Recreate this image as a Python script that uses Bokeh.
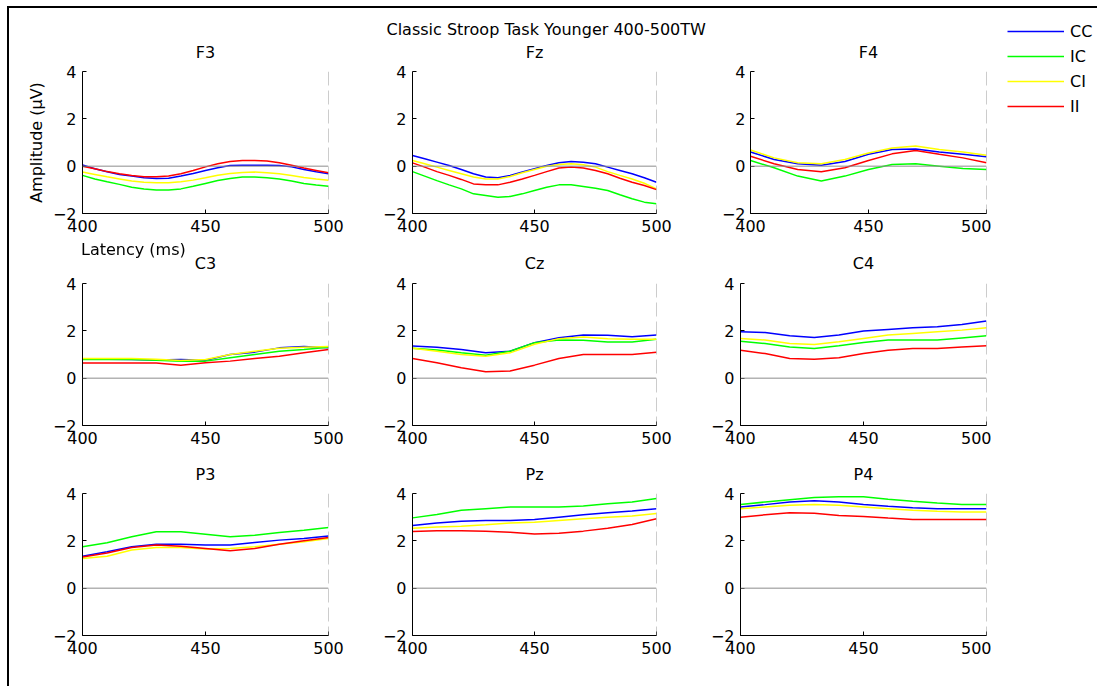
from bokeh.plotting import figure
from bokeh.layouts import column, row
from bokeh.models import (Range1d, FixedTicker, Span, Legend, LegendItem, Title, Div)
from bokeh.embed import file_html
from bokeh.resources import INLINE

# ---------------- data ----------------
time_ms = [400, 410, 420, 430, 440, 450, 460, 470, 480, 490, 500]
time_fine = [400, 405, 410, 415, 420, 425, 430, 435, 440, 445, 450,
             455, 460, 465, 470, 475, 480, 485, 490, 495, 500]
conditions = ["CC", "IC", "CI", "II"]
channels = ["F3", "Fz", "F4", "C3", "Cz", "C4", "P3", "Pz", "P4"]
x_ticks = [400, 450, 500]
y_ticks = [-2, 0, 2, 4]

# F3 and Fz read at 5 ms steps
F3_CC = [0.05, -0.11, -0.24, -0.35, -0.42, -0.49, -0.52, -0.51, -0.42, -0.31, -0.18,
         -0.07, 0.03, 0.04, 0.04, 0.04, 0.03, -0.03, -0.14, -0.24, -0.32]
F3_IC = [-0.39, -0.54, -0.66, -0.77, -0.89, -0.96, -1.01, -1.01, -0.96, -0.85, -0.73,
         -0.61, -0.52, -0.46, -0.46, -0.49, -0.54, -0.63, -0.73, -0.8, -0.85]
F3_CI = [-0.25, -0.35, -0.45, -0.54, -0.63, -0.68, -0.7, -0.7, -0.66, -0.59, -0.49,
         -0.38, -0.31, -0.27, -0.25, -0.28, -0.32, -0.39, -0.48, -0.54, -0.59]
F3_II = [0.0, -0.11, -0.23, -0.32, -0.39, -0.45, -0.45, -0.42, -0.32, -0.18, -0.03,
         0.1, 0.2, 0.24, 0.24, 0.22, 0.14, 0.04, -0.08, -0.18, -0.28]

Fz_CC = [0.45, 0.31, 0.17, 0.03, -0.14, -0.32, -0.46, -0.49, -0.39, -0.25, -0.11,
         0.03, 0.14, 0.2, 0.17, 0.1, -0.04, -0.18, -0.32, -0.49, -0.68]
Fz_IC = [-0.23, -0.42, -0.61, -0.79, -0.96, -1.17, -1.24, -1.31, -1.28, -1.17, -1.03,
         -0.89, -0.79, -0.79, -0.86, -0.93, -1.03, -1.21, -1.38, -1.52, -1.59]
Fz_CI = [0.24, 0.1, -0.04, -0.18, -0.32, -0.46, -0.54, -0.54, -0.44, -0.28, -0.14,
         0.0, 0.07, 0.1, 0.06, -0.04, -0.23, -0.39, -0.54, -0.72, -0.96]
Fz_II = [0.14, -0.04, -0.23, -0.39, -0.56, -0.75, -0.79, -0.79, -0.68, -0.54, -0.39,
         -0.23, -0.08, -0.04, -0.08, -0.18, -0.32, -0.51, -0.68, -0.82, -0.99]

# the remaining channels read at 10 ms steps
F4_CC = [0.6, 0.28, 0.1, 0.04, 0.2, 0.5, 0.7, 0.73, 0.6, 0.5, 0.4]
F4_IC = [0.24, -0.07, -0.42, -0.63, -0.42, -0.14, 0.07, 0.1, 0.0, -0.1, -0.14]
F4_CI = [0.68, 0.35, 0.14, 0.1, 0.28, 0.56, 0.77, 0.85, 0.7, 0.6, 0.46]
F4_II = [0.42, 0.1, -0.14, -0.24, -0.07, 0.24, 0.52, 0.66, 0.5, 0.35, 0.14]

C3_CC = [0.8, 0.8, 0.79, 0.77, 0.79, 0.76, 1.0, 1.1, 1.28, 1.34, 1.28]
C3_IC = [0.79, 0.79, 0.79, 0.76, 0.72, 0.72, 0.86, 1.0, 1.14, 1.21, 1.31]
C3_CI = [0.83, 0.83, 0.83, 0.8, 0.75, 0.79, 1.0, 1.14, 1.26, 1.31, 1.34]
C3_II = [0.64, 0.64, 0.64, 0.64, 0.55, 0.65, 0.72, 0.83, 0.93, 1.07, 1.21]

Cz_CC = [1.36, 1.31, 1.21, 1.07, 1.14, 1.5, 1.71, 1.82, 1.81, 1.75, 1.82]
Cz_IC = [1.26, 1.19, 1.07, 0.97, 1.14, 1.5, 1.61, 1.6, 1.53, 1.53, 1.64]
Cz_CI = [1.26, 1.14, 1.0, 0.93, 1.07, 1.43, 1.67, 1.74, 1.67, 1.64, 1.64]
Cz_II = [0.83, 0.65, 0.44, 0.27, 0.3, 0.55, 0.83, 1.0, 1.0, 1.0, 1.09]

C4_CC = [1.96, 1.93, 1.79, 1.72, 1.82, 1.99, 2.06, 2.13, 2.17, 2.27, 2.42]
C4_IC = [1.56, 1.46, 1.32, 1.25, 1.37, 1.51, 1.61, 1.61, 1.61, 1.7, 1.79]
C4_CI = [1.68, 1.61, 1.46, 1.42, 1.54, 1.68, 1.82, 1.89, 1.96, 2.03, 2.13]
C4_II = [1.18, 1.04, 0.83, 0.8, 0.86, 1.04, 1.18, 1.25, 1.25, 1.32, 1.37]

P3_CC = [1.35, 1.54, 1.75, 1.86, 1.86, 1.82, 1.82, 1.93, 2.03, 2.1, 2.2]
P3_IC = [1.75, 1.92, 2.17, 2.38, 2.38, 2.28, 2.17, 2.24, 2.35, 2.45, 2.56]
P3_CI = [1.25, 1.35, 1.61, 1.72, 1.72, 1.65, 1.68, 1.75, 1.86, 1.96, 2.1]
P3_II = [1.32, 1.49, 1.72, 1.82, 1.77, 1.68, 1.58, 1.68, 1.86, 2.0, 2.14]

Pz_CC = [2.65, 2.75, 2.83, 2.86, 2.86, 2.9, 3.0, 3.1, 3.19, 3.26, 3.36]
Pz_IC = [2.97, 3.11, 3.29, 3.36, 3.43, 3.43, 3.43, 3.47, 3.57, 3.64, 3.79]
Pz_CI = [2.53, 2.58, 2.62, 2.68, 2.75, 2.79, 2.86, 2.93, 3.0, 3.05, 3.15]
Pz_II = [2.39, 2.43, 2.43, 2.41, 2.36, 2.29, 2.32, 2.41, 2.53, 2.69, 2.93]

P4_CC = [3.43, 3.53, 3.64, 3.69, 3.64, 3.54, 3.46, 3.4, 3.36, 3.36, 3.36]
P4_IC = [3.54, 3.64, 3.74, 3.83, 3.86, 3.86, 3.76, 3.67, 3.6, 3.54, 3.54]
P4_CI = [3.36, 3.43, 3.5, 3.54, 3.5, 3.43, 3.36, 3.29, 3.25, 3.22, 3.22]
P4_II = [3.0, 3.1, 3.19, 3.17, 3.07, 3.03, 2.96, 2.9, 2.9, 2.9, 2.9]

channel_data = {
    "F3": (time_fine, [F3_CC, F3_IC, F3_CI, F3_II]),
    "Fz": (time_fine, [Fz_CC, Fz_IC, Fz_CI, Fz_II]),
    "F4": (time_ms, [F4_CC, F4_IC, F4_CI, F4_II]),
    "C3": (time_ms, [C3_CC, C3_IC, C3_CI, C3_II]),
    "Cz": (time_ms, [Cz_CC, Cz_IC, Cz_CI, Cz_II]),
    "C4": (time_ms, [C4_CC, C4_IC, C4_CI, C4_II]),
    "P3": (time_ms, [P3_CC, P3_IC, P3_CI, P3_II]),
    "Pz": (time_ms, [Pz_CC, Pz_IC, Pz_CI, Pz_II]),
    "P4": (time_ms, [P4_CC, P4_IC, P4_CI, P4_II]),
}
colors = ["#0000ff", "#00ff00", "#ffff00", "#ff0000"]
main_title = "Classic Stroop Task Younger 400-500TW"
x_label = "Latency (ms)"
y_label = "Amplitude (μV)"

# ---------------- layout ----------------
FONT = "DejaVu Sans"
FS = "16px"
row_cols = [
    [(365, 82, 37), (353, 47, 62), (273, 22, 5)],
    [(365, 82, 37), (330, 47, 39), (296, 45, 5)],
    [(365, 82, 37), (330, 47, 39), (296, 45, 5)],
]
row_specs = [(240, 71, 27, 20), (210, 43, 25, 22), (236, 43, 51, 20)]


def style_title(t):
    t.text_font = FONT
    t.text_font_size = FS
    t.text_font_style = "normal"
    t.text_color = "#000000"


def make_fig(name, ri, ci, title_text=None):
    w, bl, br = row_cols[ri][ci]
    h, bt, bb, st = row_specs[ri]
    p = figure(width=w, height=h, x_range=Range1d(400, 500), y_range=Range1d(-2, 4),
               output_backend="svg", toolbar_location=None,
               min_border_left=bl, min_border_right=br,
               min_border_top=bt, min_border_bottom=bb,
               title=title_text if title_text is not None else name)
    if title_text is None:
        p.title.align = "center"
        p.title.standoff = st
    else:
        # channel name as an extra title closest to the frame
        p.add_layout(Title(text=name, align="center", standoff=st), "above")
        style_title(p.above[-1])
    style_title(p.title)
    p.outline_line_color = None
    p.xgrid.visible = False
    p.ygrid.visible = False
    p.background_fill_color = "white"
    p.border_fill_color = "white"
    for ax, ticks in ((p.xaxis[0], x_ticks), (p.yaxis[0], y_ticks)):
        ax.ticker = FixedTicker(ticks=ticks)
        ax.minor_tick_line_color = None
        ax.major_tick_in = 4
        ax.major_tick_out = 0
        ax.axis_line_color = "#000000"
        ax.major_tick_line_color = "#000000"
        ax.major_label_text_font = FONT
        ax.major_label_text_font_size = FS
        ax.major_label_text_color = "#000000"
        ax.major_label_standoff = 6
    p.add_layout(Span(location=0, dimension="width", line_color="#8c8c8c", line_width=1))
    p.add_layout(Span(location=500, dimension="height", line_color="#9a9a9a",
                      line_width=1, line_dash="14 5"))
    t, series_list = channel_data[name]
    for series, col in zip(series_list, colors):
        p.line(t, series, line_color=col, line_width=1.5)
    return p


figs = []
for ri in range(3):
    rf = []
    for ci in range(3):
        name = channels[ri * 3 + ci]
        rf.append(make_fig(name, ri, ci, title_text=main_title if name == "Fz" else None))
    figs.append(rf)

# main title (plot title of Fz, outermost, centred on the page)
fz = figs[0][1]
fz.title.align = "left"
fz.title.offset = -26
fz.title.standoff = -17

# y axis label on F3
f3 = figs[0][0]
f3.yaxis[0].axis_label = y_label
f3.yaxis[0].axis_label_text_font = FONT
f3.yaxis[0].axis_label_text_font_size = FS
f3.yaxis[0].axis_label_text_font_style = "normal"
f3.yaxis[0].axis_label_text_color = "#000000"
f3.yaxis[0].axis_label_standoff = 4

figs[0][2].yaxis[0].major_label_standoff = 5

# Legend in its own small figure at the right
leg_fig = figure(width=106, height=685, x_range=Range1d(0, 1), y_range=Range1d(0, 1),
                 output_backend="svg", toolbar_location=None,
                 min_border_left=0, min_border_right=0, min_border_top=0, min_border_bottom=0,
                 x_axis_type=None, y_axis_type=None)
leg_fig.outline_line_color = None
leg_fig.xgrid.visible = False
leg_fig.ygrid.visible = False
nan = float("nan")
leg_rends = [leg_fig.line(x=[nan], y=[nan], line_color=c, line_width=1.5) for c in colors]
legend = Legend(items=[LegendItem(label=c, renderers=[r]) for c, r in zip(conditions, leg_rends)],
                location=(16, 580), padding=0, margin=0, spacing=5,
                glyph_width=57, glyph_height=20, label_height=20, label_standoff=6,
                label_text_font=FONT, label_text_font_size=FS, label_text_color="#000000",
                border_line_color=None, background_fill_alpha=0)
leg_fig.add_layout(legend)

# free-floating text and the figure's black frame edges
overlay = Div(width=106, height=1, text=(
    '<div style="position:fixed;right:0;top:0;width:4px;height:686px;background:#fff;z-index:50;"></div>'
    '<div style="position:fixed;left:7px;top:6px;width:1090px;height:2px;background:#000;z-index:60;"></div>'
    '<div style="position:fixed;left:7px;top:6px;width:2px;height:680px;background:#000;z-index:60;"></div>'
    '<div style="position:fixed;left:81px;top:240px;font-family:\'DejaVu Sans\';font-size:16px;'
    'line-height:19px;color:#000;white-space:nowrap;">' + x_label + '</div>'))

main_col = column(row(*figs[0], spacing=0), row(*figs[1], spacing=0),
                  row(*figs[2], spacing=0), spacing=0)
leg_col = column(overlay, leg_fig, spacing=0)
root = row(main_col, leg_col, spacing=0)

open("out.html", "w").write(file_html(root, INLINE))
